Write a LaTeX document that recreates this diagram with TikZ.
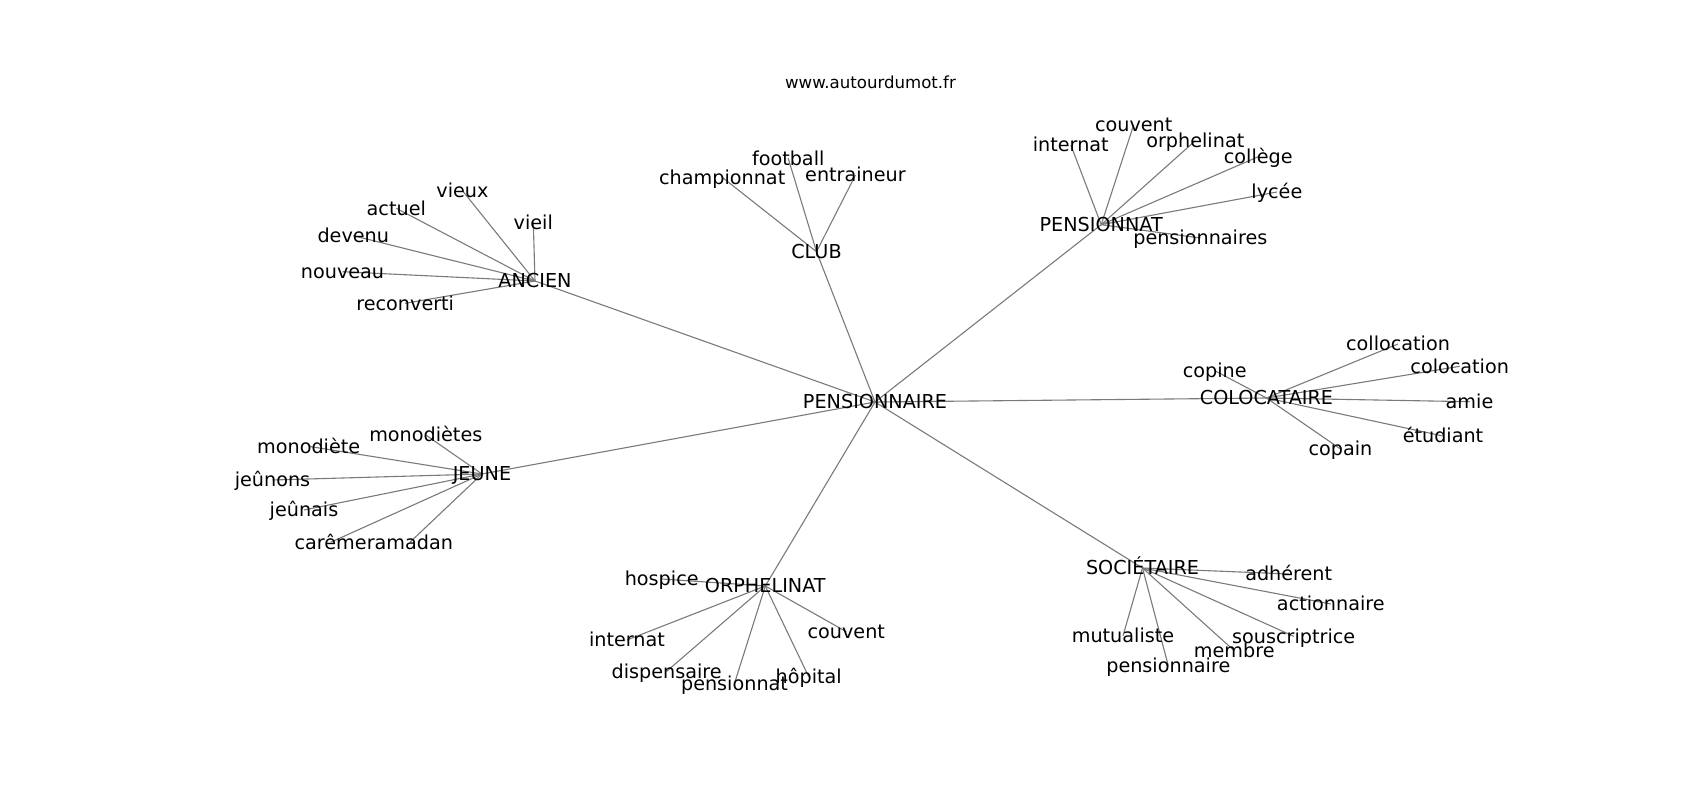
\documentclass[tikz,border=0pt]{standalone}
\usepackage{fontspec}
\setmainfont{DejaVu Sans}
\usetikzlibrary{backgrounds}
\newcommand{\wordfont}{\fontsize{9.6bp}{11bp}\selectfont}
\newcommand{\titlefont}{\fontsize{8.3bp}{10bp}\selectfont}

\begin{document}
\begin{tikzpicture}[
      x=0.5bp, y=-0.5bp,
      every node/.style={inner sep=0pt, font=\wordfont, text height=7.7bp, text depth=0.8bp},
      link/.style={draw=black!52, line width=0.55bp}
    ]
      \useasboundingbox (0,0) rectangle (1700,800);
      \node[anchor=base, font=\titlefont, text height=, text depth=] (title) at (870.5,88) {www.autourdumot.fr};
      % centre
      \node (root) at (875,402) {PENSIONNAIRE};
      % ANCIEN
      \node (anc) at (535,281) {ANCIEN};
      \node (vieux) at (462.5,190.7) {vieux};
      \node (actuel) at (396.3,208.3) {actuel};
      \node (vieil) at (533.3,222.3) {vieil};
      \node (devenu) at (353.3,235.7) {devenu};
      \node (nouveau) at (342.5,271.7) {nouveau};
      \node (reconverti) at (405.2,303.3) {reconverti};
      % CLUB
      \node (club) at (816.5,251.7) {CLUB};
      \node (football) at (788.2,158.3) {football};
      \node (championnat) at (722.2,177.3) {championnat};
      \node (entraineur) at (855.5,175) {entraineur};
      % PENSIONNAT
      \node (pnat) at (1101.2,224.7) {PENSIONNAT};
      \node (couventA) at (1133.7,124.7) {couvent};
      \node (internatA) at (1070.8,145) {internat};
      \node (orphelinat) at (1195.3,140.7) {orphelinat};
      \node (college) at (1258.3,156.7) {collège};
      \node (lycee) at (1276.9,192) {lycée};
      \node (pensionnaires) at (1200.3,238) {pensionnaires};
      % COLOCATAIRE
      \node (coloc) at (1266.5,398) {COLOCATAIRE};
      \node (collocation) at (1398,344) {collocation};
      \node (colocation) at (1459.7,366.3) {colocation};
      \node (copine) at (1214.8,370.7) {copine};
      \node (amie) at (1469.5,401.7) {amie};
      \node (etudiant) at (1443,436) {étudiant};
      \node (copain) at (1340.5,449) {copain};
      % JEUNE
      \node (jeune) at (482,474) {JEUNE};
      \node (monodietes) at (425.8,435) {monodiètes};
      \node (monodiete) at (308.7,446.3) {monodiète};
      \node (jeunons) at (272.5,480) {jeûnons};
      \node (jeunais) at (304,510) {jeûnais};
      \node (careme) at (330.6,542.3) {carême};
      \node (ramadan) at (409.9,542.3) {ramadan};
      % ORPHELINAT
      \node (orph) at (765.3,586) {ORPHELINAT};
      \node (hospice) at (661.7,579) {hospice};
      \node (internatB) at (627,640) {internat};
      \node (couventB) at (846.3,631.7) {couvent};
      \node (dispensaire) at (666.7,671.3) {dispensaire};
      \node (pensionnat) at (734.5,683.3) {pensionnat};
      \node (hopital) at (808.7,676.7) {hôpital};
      % SOCIETAIRE
      \node (soc) at (1142.5,568) {SOCIÉTAIRE};
      \node (adherent) at (1288.7,574) {adhérent};
      \node (actionnaire) at (1330.8,604) {actionnaire};
      \node (mutualiste) at (1123,635.7) {mutualiste};
      \node (souscriptrice) at (1293.7,636.3) {souscriptrice};
      \node (membre) at (1234.2,650.7) {membre};
      \node (pensionnaire) at (1168.3,665.7) {pensionnaire};

      \begin{scope}[on background layer]
        \draw[link] (root.center) -- (anc.center);
        \draw[link] (root.center) -- (club.center);
        \draw[link] (root.center) -- (pnat.center);
        \draw[link] (root.center) -- (coloc.center);
        \draw[link] (root.center) -- (jeune.center);
        \draw[link] (root.center) -- (orph.center);
        \draw[link] (root.center) -- (soc.center);
        \draw[link] (anc.center) -- (vieux.center);
        \draw[link] (anc.center) -- (actuel.center);
        \draw[link] (anc.center) -- (vieil.center);
        \draw[link] (anc.center) -- (devenu.center);
        \draw[link] (anc.center) -- (nouveau.center);
        \draw[link] (anc.center) -- (reconverti.center);
        \draw[link] (club.center) -- (football.center);
        \draw[link] (club.center) -- (championnat.center);
        \draw[link] (club.center) -- (entraineur.center);
        \draw[link] (pnat.center) -- (couventA.center);
        \draw[link] (pnat.center) -- (internatA.center);
        \draw[link] (pnat.center) -- (orphelinat.center);
        \draw[link] (pnat.center) -- (college.center);
        \draw[link] (pnat.center) -- (lycee.center);
        \draw[link] (pnat.center) -- (pensionnaires.center);
        \draw[link] (coloc.center) -- (collocation.center);
        \draw[link] (coloc.center) -- (colocation.center);
        \draw[link] (coloc.center) -- (copine.center);
        \draw[link] (coloc.center) -- (amie.center);
        \draw[link] (coloc.center) -- (etudiant.center);
        \draw[link] (coloc.center) -- (copain.center);
        \draw[link] (jeune.center) -- (monodietes.center);
        \draw[link] (jeune.center) -- (monodiete.center);
        \draw[link] (jeune.center) -- (jeunons.center);
        \draw[link] (jeune.center) -- (jeunais.center);
        \draw[link] (jeune.center) -- (careme.center);
        \draw[link] (jeune.center) -- (ramadan.center);
        \draw[link] (orph.center) -- (hospice.center);
        \draw[link] (orph.center) -- (internatB.center);
        \draw[link] (orph.center) -- (couventB.center);
        \draw[link] (orph.center) -- (dispensaire.center);
        \draw[link] (orph.center) -- (pensionnat.center);
        \draw[link] (orph.center) -- (hopital.center);
        \draw[link] (soc.center) -- (adherent.center);
        \draw[link] (soc.center) -- (actionnaire.center);
        \draw[link] (soc.center) -- (mutualiste.center);
        \draw[link] (soc.center) -- (souscriptrice.center);
        \draw[link] (soc.center) -- (membre.center);
        \draw[link] (soc.center) -- (pensionnaire.center);
      \end{scope}
    \end{tikzpicture}
\end{document}
